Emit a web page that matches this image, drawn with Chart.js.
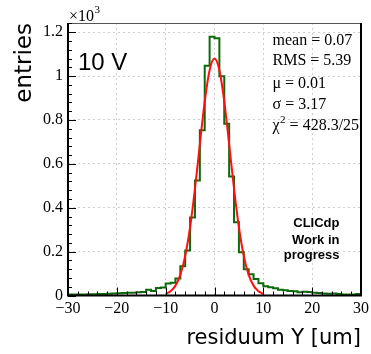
<!DOCTYPE html>
<html><head><meta charset="utf-8">
<script src="https://cdn.jsdelivr.net/npm/chart.js@4/dist/chart.umd.min.js"></script>
<style>html,body{margin:0;padding:0;background:#fff;}canvas{display:block;}</style>
</head><body>
<canvas id="c" width="371" height="354" style="width:371px;height:354px"></canvas>
<script>
// ---- data (values in units of 10^3 entries) ----
const binLow = [-30,-29,-28,-27,-26,-25,-24,-23,-22,-21,-20,-19,-18,-17,-16,-15,-14,-13,-12,-11,
                -10,-9,-8,-7,-6,-5,-4,-3,-2,-1,0,1,2,3,4,5,6,7,8,9,
                10,11,12,13,14,15,16,17,18,19,20,21,22,23,24,25,26,27,28,29];
const binHigh = 30;
const counts = [0.004,0.005,0.004,0.005,0.006,0.006,0.007,0.007,0.008,0.009,
                0.010,0.011,0.012,0.013,0.015,0.016,0.026,0.021,0.034,0.037,
                0.055,0.058,0.077,0.133,0.205,0.355,0.524,0.753,1.047,1.179,
                1.173,0.999,0.783,0.542,0.334,0.197,0.120,0.097,0.075,0.056,
                0.042,0.038,0.033,0.026,0.024,0.020,0.019,0.015,0.017,0.016,
                0.012,0.011,0.009,0.008,0.009,0.007,0.005,0.005,0.005,0.007];
const fitX = [-10,-9,-8,-7,-6,-5,-4,-3,-2,-1,0,1,2,3,4,5,6,7,8,9,10];
const fitY = [0.0075,0.019,0.045,0.094,0.180,0.311,0.487,0.690,0.885,1.027,1.080,
              1.027,0.885,0.690,0.487,0.311,0.180,0.094,0.045,0.019,0.0075];
const xTicks = [-30,-20,-10,0,10,20,30];
const yTicks = [0,0.2,0.4,0.6,0.8,1,1.2];
const xTitle = 'residuum Y [um]';
const yTitle = 'entries';
const voltageLabel = '10 V';
const statLines = ['mean = 0.07','RMS = 5.39','\u03bc = 0.01','\u03c3 = 3.17'];
const chi2Text = ' = 428.3/25';
const logoLines = ['CLICdp','Work in','progress'];

const histData = binLow.map((x,i)=>({x:x, y:counts[i]}));
histData.push({x:binHigh, y:counts[counts.length-1]});
const fitData = fitX.map((x,i)=>({x:x, y:fitY[i]}));

const overlay = {
  id:'overlay',
  afterDatasetsDraw(chart){
    const ctx = chart.ctx, a = chart.chartArea;
    const xs = chart.scales.x, ys = chart.scales.y;
    ctx.save();
    // frame
    ctx.strokeStyle = '#555'; ctx.lineWidth = 1;
    ctx.beginPath(); ctx.moveTo(a.left, a.top+0.5); ctx.lineTo(a.right, a.top+0.5); ctx.stroke();
    ctx.strokeStyle = '#000'; ctx.lineWidth = 2;
    ctx.beginPath();
    ctx.moveTo(a.right, a.top); ctx.lineTo(a.right, a.bottom);
    ctx.moveTo(a.left, a.top); ctx.lineTo(a.left, a.bottom); ctx.lineTo(a.right+1, a.bottom);
    ctx.stroke();
    // inner ticks
    ctx.lineWidth = 1;
    ctx.beginPath();
    for (let k = -15; k <= 15; k++) {
      const v = k*2, px = Math.round(xs.getPixelForValue(v))+0.5;
      const len = (v % 10 === 0) ? 8 : 4;
      ctx.moveTo(px, a.bottom); ctx.lineTo(px, a.bottom - len);
    }
    for (let k = 0; k <= 31; k++) {
      const v = k*0.04; if (v > ys.max) break;
      const py = Math.round(ys.getPixelForValue(v))+0.5;
      const len = (k % 5 === 0) ? 8 : 4;
      ctx.moveTo(a.left, py); ctx.lineTo(a.left + len, py);
    }
    ctx.stroke();
    // x10^3
    ctx.fillStyle = '#000';
    ctx.textBaseline = 'alphabetic'; ctx.textAlign = 'left';
    ctx.font = '16px "Liberation Serif"';
    ctx.fillText('\u00d710', 69, 21);
    const w10 = ctx.measureText('\u00d710').width;
    ctx.font = '11px "Liberation Serif"';
    ctx.fillText('3', 69 + w10 + 0.5, 13);
    // voltage
    ctx.font = '24px "Liberation Sans"';
    ctx.fillText(voltageLabel, 78, 70);
    // stats
    ctx.font = '16px "Liberation Serif"';
    const sy = [45, 65, 88, 109];
    statLines.forEach((t,i)=>ctx.fillText(t, 272.5, sy[i]));
    ctx.fillText('\u03c7', 272.5, 130);
    const wc = ctx.measureText('\u03c7').width;
    ctx.font = '11px "Liberation Serif"';
    ctx.fillText('2', 272.5 + wc + 0.5, 123);
    const w2 = ctx.measureText('2').width;
    ctx.font = '16px "Liberation Serif"';
    ctx.fillText(chi2Text, 272.5 + wc + w2 + 0.5, 130);
    // logo
    ctx.font = 'bold 13px "Liberation Sans"';
    ctx.textAlign = 'right';
    const ly = [227, 243.5, 259];
    logoLines.forEach((t,i)=>ctx.fillText(t, 339.5, ly[i]));
    ctx.restore();
  }
};

const fmtY = v => String(+(+v).toFixed(2));
const fmtX = v => (v < 0 ? '\u2212' + Math.abs(v) : String(v));

new Chart(document.getElementById('c'), {
  type: 'line',
  data: {
    datasets: [
      { data: fitData, borderColor: '#ff1010', borderWidth: 2, pointRadius: 0,
        cubicInterpolationMode: 'monotone', fill: false, order: 0 },
      { data: histData, borderColor: '#0b6a0b', borderWidth: 2, pointRadius: 0,
        stepped: 'before', fill: false, order: 1 }
    ]
  },
  options: {
    responsive: false, animation: false, devicePixelRatio: 1,
    layout: { padding: { top: 23, right: 10, left: 0, bottom: 0 } },
    plugins: { legend: { display: false }, tooltip: { enabled: false } },
    scales: {
      x: {
        type: 'linear', min: -30, max: 30,
        afterBuildTicks: s => { s.ticks = xTicks.map(v => ({value: v})); },
        afterFit: s => { s.height = 58.5; s.paddingLeft = 0; s.paddingRight = 0; },
        grid: { color: '#cfcfcf', lineWidth: 1, drawTicks: false },
        border: { display: false, dash: [2, 3] },
        ticks: { callback: v => fmtX(v), color: '#000', padding: 4, maxRotation: 0,
                 font: { family: '"Liberation Serif"', size: 16 } },
        title: { display: true, text: xTitle, align: 'end', color: '#000',
                 font: { family: '"DejaVu Sans"', size: 21 }, padding: { top: 0, bottom: 3 } }
      },
      y: {
        type: 'linear', min: 0, max: 1.242,
        afterBuildTicks: s => { s.ticks = yTicks.map(v => ({value: v})); },
        afterFit: s => { s.width = 68; s.paddingTop = 0; s.paddingBottom = 0; },
        grid: { color: '#cfcfcf', lineWidth: 1, drawTicks: false },
        border: { display: false, dash: [2, 3] },
        ticks: { callback: v => fmtY(v), color: '#000', padding: 5,
                 font: { family: '"Liberation Serif"', size: 16 } },
        title: { display: true, text: yTitle, align: 'end', color: '#000',
                 font: { family: '"DejaVu Sans"', size: 23 }, padding: { top: 11, bottom: 0 } }
      }
    }
  },
  plugins: [overlay]
});
</script>
</body></html>
